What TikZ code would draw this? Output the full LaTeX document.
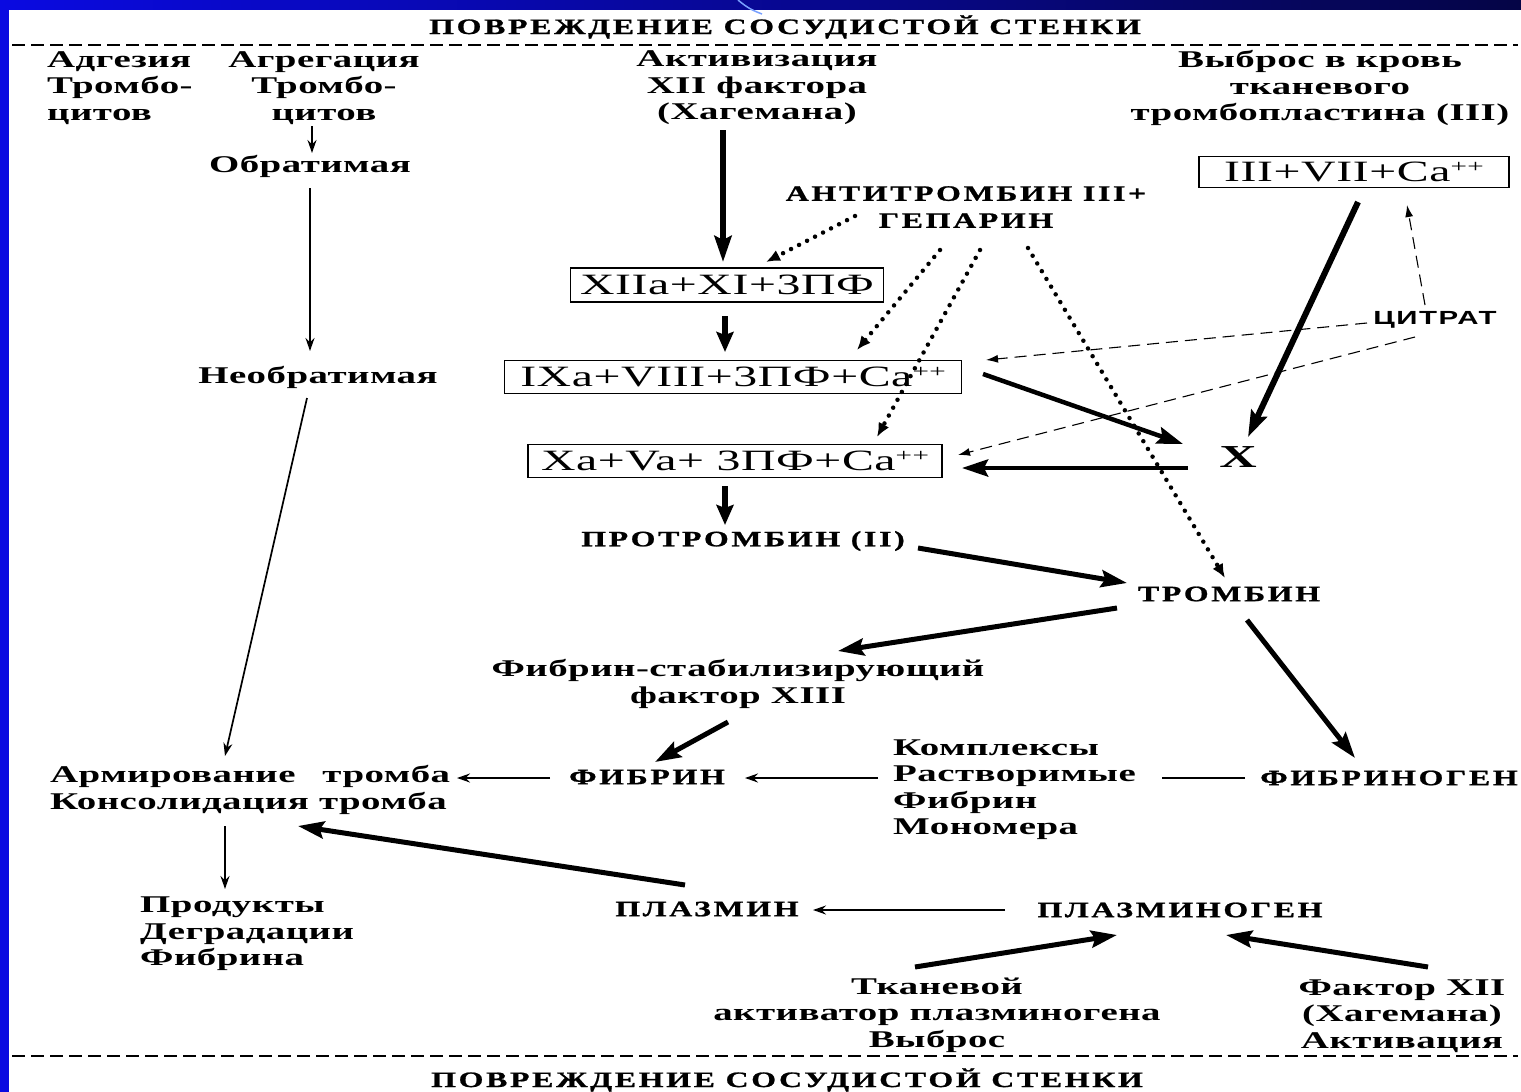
\documentclass[tikz,border=0pt]{standalone}
\usepackage{fontspec}
\setmainfont{Liberation Serif}[FakeStretch=1.62,LetterSpace=2]
\newfontfamily\capsfont{Liberation Serif}[FakeStretch=1.45,LetterSpace=12,FakeBold=1]
\newfontfamily\citfont{Liberation Sans}[FakeStretch=1.55,LetterSpace=8]
\usetikzlibrary{arrows.meta,calc}
\definecolor{frameblue}{RGB}{10,10,225}
\definecolor{darknavy}{RGB}{5,5,70}
\definecolor{lightarc}{RGB}{120,160,255}
\newcommand{\pp}{\raisebox{0.3em}{\fontsize{18}{18}\selectfont ++}}
\begin{document}
\begin{tikzpicture}[x=1pt,y=-1pt,
 txt/.style={font=\fontsize{24}{26.5}\selectfont\bfseries,inner sep=0,align=center},
 capsl/.style={font=\capsfont\fontsize{22}{27}\selectfont\bfseries,inner sep=0,align=center},
 boxed/.style={draw,line width=1.6,inner sep=0,font=\fontsize{29.5}{30}\selectfont},
 thinarr/.style={line width=1.7,-{Stealth[length=13,width=9]}},
 heavy/.style={line width=5,-{Stealth[length=26,width=17,inset=4]}},
 dotarr/.style={line width=4.5,line cap=round,dash pattern=on 0pt off 9pt,-{Latex[length=14,width=12]}},
 dasharr/.style={line width=1.1,dash pattern=on 12pt off 7pt,-{Latex[length=12,width=8]}},
 sepline/.style={line width=1.5,dash pattern=on 13pt off 6pt}]
\useasboundingbox (0,0) rectangle (1521,1092);
\fill[white] (0,0) rectangle (1521,1092);
% frame
\fill[frameblue] (0,0) rectangle (9,1092);
\shade[left color=frameblue,right color=darknavy] (0,0) rectangle (1521,9);
\draw[lightarc,line width=1.5] (738,0) to[bend right=10] (762,14);
% separator lines
\draw[sepline] (12,45) -- (1518,45);
\draw[sepline] (12,1056) -- (1518,1056);
% titles
\node[capsl] (top) at (785,27) {ПОВРЕЖДЕНИЕ СОСУДИСТОЙ СТЕНКИ};
\node[capsl] (bot) at (787,1080) {ПОВРЕЖДЕНИЕ СОСУДИСТОЙ СТЕНКИ};
% row 1
\node[txt,anchor=west,align=left] (adg) at (47,88) {Адгезия\\Тромбо-\\цитов};
\node[txt] (agr) at (324,88) {Агрегация\\Тромбо-\\цитов};
\node[txt] (act) at (757,88) {Активизация\\XII фактора\\(Хагемана)};
\node[txt] (vyb) at (1320,88) {Выброс в кровь\\тканевого\\тромбопластина (III)};
% left column
\node[txt] (obr) at (310,166) {Обратимая};
\node[txt] (neobr) at (318,377) {Необратимая};
\node[txt,anchor=west,align=left] (arm) at (50,790) {\hbox to 400pt{Армирование\hfil тромба}\\Консолидация тромба};
\node[txt,anchor=west,align=left] (prod) at (140,934) {Продукты\\Деградации\\Фибрина};
% centre column
\node[capsl] (ant) at (966,207) {АНТИТРОМБИН III+\\ГЕПАРИН};
\node[boxed,minimum width=313,minimum height=34] (xii) at (727,285) {XIIa+XI+3ПФ};
\node[boxed,minimum width=457,minimum height=33] (ix) at (733,377) {IXa+VIII+3ПФ+Ca\pp};
\node[boxed,minimum width=414,minimum height=33] (xa) at (735,461) {Xa+Va+ 3ПФ+Ca\pp};
\node[boxed,minimum width=310,minimum height=31] (iii) at (1354,172) {III+VII+Ca\pp};
\node[capsl] (prot) at (743,541) {ПРОТРОМБИН (II)};
\node[capsl] (thr) at (1229,594) {ТРОМБИН};
\node[txt] (fsf) at (738,684) {Фибрин-стабилизирующий\\фактор XIII};
\node[capsl] (fib) at (647,777) {ФИБРИН};
\node[txt,anchor=west,align=left] (kompl) at (893,789.5) {Комплексы\\Растворимые\\Фибрин\\Мономера};
\node[capsl] (fgen) at (1389,778) {ФИБРИНОГЕН};
\node[font=\fontsize{32}{32}\selectfont\bfseries,inner sep=0] (X) at (1238,457) {X};
\node[font=\citfont\fontsize{19}{20}\selectfont\bfseries,inner sep=0] (cit) at (1435,320) {ЦИТРАТ};
% bottom
\node[capsl] (plasmin) at (707,909) {ПЛАЗМИН};
\node[capsl] (plg) at (1180,910) {ПЛАЗМИНОГЕН};
\node[txt] (tkan) at (937,1015) {Тканевой\\активатор плазминогена\\Выброс};
\node[txt] (f12) at (1402,1016) {Фактор XII\\(Хагемана)\\Активация};
% connectors: left column
\draw[thinarr] ($(agr)+(-12,38)$) -- ($(obr)+(2,-13)$);
\draw[thinarr] ($(obr)+(0,22)$) -- ($(neobr)+(-8,-26)$);
\draw[thinarr] ($(neobr)+(-11,21)$) -- ($(arm.west)+(175,-34)$);
\draw[thinarr] ($(arm.west)+(175,36)$) -- ($(prod.west)+(85,-45)$);
\draw[thinarr] ($(fib)+(-97,1)$) -- ($(arm.west)+(407,-12)$);
\draw[heavy] ($(plasmin)+(-22,-24)$) -- ($(arm.west)+(248,36)$);
\draw[thinarr] ($(plg)+(-175,0)$) -- ($(plasmin)+(106,1)$);
\draw[heavy] ($(tkan)+(-22,-48)$) -- ($(plg)+(-63,25)$);
\draw[heavy] ($(f12)+(26,-49)$) -- ($(plg)+(46,25)$);
% centre cascade
\draw[heavy,line width=6] ($(act)+(-34,42)$) -- ($(xii)+(-4,-23)$);
\draw[dotarr] ($(ant)+(-111,9)$) -- ($(xii)+(39,-23)$);
\draw[heavy,line width=6,-{Stealth[length=20,width=17,inset=3]}] ($(xii)+(-2,31)$) -- ($(ix)+(-8,-25)$);
\draw[dotarr] ($(ant)+(-26,43)$) -- ($(ix)+(124,-27)$);
\draw[dotarr] ($(ant)+(14,43)$) -- ($(xa)+(142,-24)$);
\draw[dotarr] ($(ant)+(62,41)$) -- ($(thr)+(-4,-16)$);
\draw[heavy,line width=4.5] ($(ix)+(250,-3)$) -- ($(X)+(-55,-13)$);
\draw[heavy,line width=4.5] ($(X)+(-50,11)$) -- ($(xa)+(227,7)$);
\draw[heavy,line width=6] ($(iii)+(4,30)$) -- ($(X)+(10,-20)$);
\draw[dasharr] ($(cit)+(-10,-15)$) -- ($(iii)+(53,33)$);
\draw[dasharr] ($(cit)+(-68,3)$) -- ($(ix)+(253,-17)$);
\draw[dasharr] ($(cit)+(-20,17)$) -- ($(xa)+(223,-6)$);
\draw[heavy,line width=6,-{Stealth[length=20,width=17,inset=3]}] ($(xa)+(-10,25)$) -- ($(prot)+(-18,-16)$);
\draw[heavy] ($(prot)+(175,7)$) -- ($(thr)+(-102,-11)$);
\draw[heavy] ($(thr)+(-112,14)$) -- ($(fsf)+(100,-33)$);
\draw[heavy] ($(fsf)+(-10,38)$) -- ($(fib)+(8,-15)$);
\draw[heavy] ($(thr)+(18,26)$) -- ($(fgen)+(-34,-20)$);
\draw[line width=1.7] ($(fgen)+(-144,0)$) -- ($(kompl.west)+(269,-11.5)$);
\draw[thinarr] ($(kompl.west)+(-15,-11.5)$) -- ($(fib)+(98,1)$);
\end{tikzpicture}
\end{document}
